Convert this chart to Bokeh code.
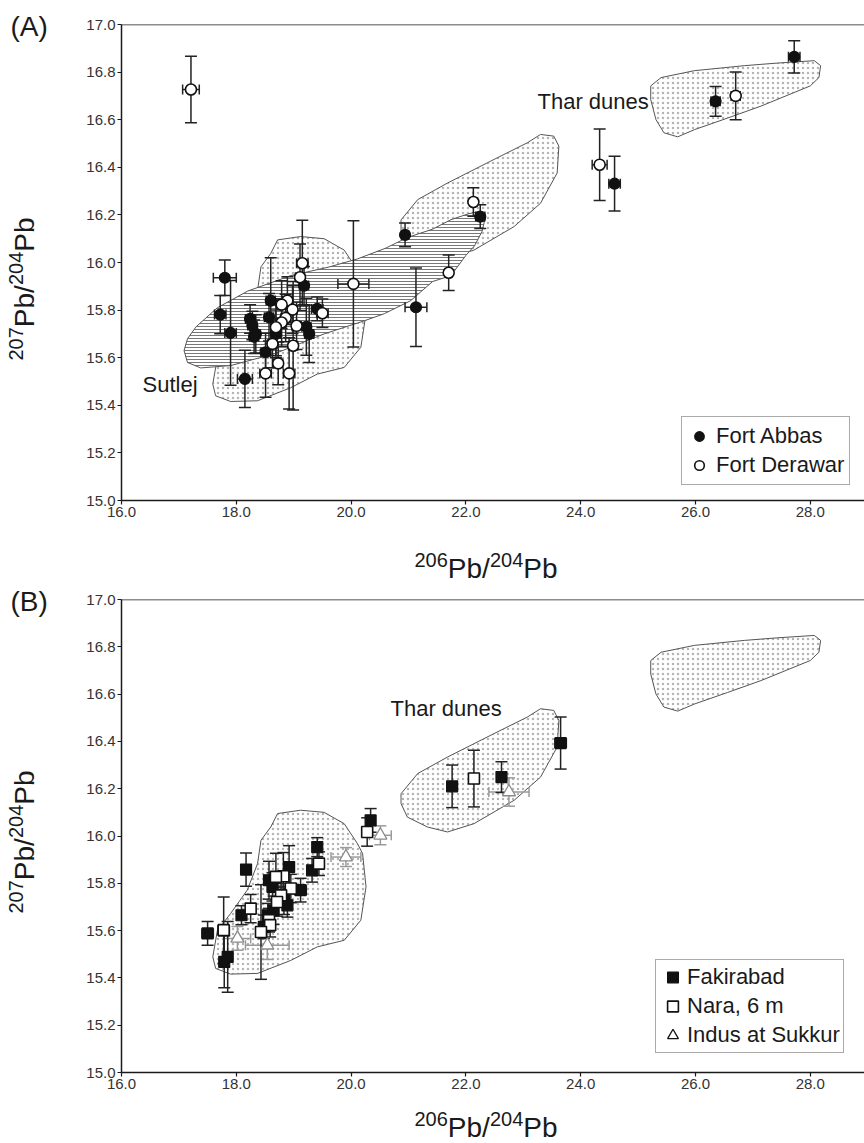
from bokeh.plotting import figure
from bokeh.layouts import column, row
from bokeh.models import (Range1d, FixedTicker, PrintfTickFormatter, Label, Legend,
                          LegendItem, Span)
from bokeh.embed import file_html
from bokeh.resources import INLINE

# ---------------- data ----------------
X_TICKS = [16.0, 18.0, 20.0, 22.0, 24.0, 26.0, 28.0]
Y_TICKS = [15.0, 15.2, 15.4, 15.6, 15.8, 16.0, 16.2, 16.4, 16.6, 16.8, 17.0]

# Panel A: Fort Abbas (filled circles)
FA_X = [27.72, 26.35, 24.59, 22.25, 20.94, 21.13, 19.41, 19.18, 19.27, 19.22, 17.80,
        17.72, 17.90, 18.15, 18.24, 18.28, 18.34, 18.60, 18.57, 18.51, 18.69, 18.31]
FA_Y = [16.864, 16.677, 16.331, 16.193, 16.116, 15.812, 15.805, 15.903, 15.700, 15.730, 15.936,
        15.781, 15.704, 15.511, 15.763, 15.735, 15.700, 15.840, 15.770, 15.623, 15.700, 15.688]
FA_XERR = [0.10, 0.08, 0.10, 0.08, 0.06, 0.19, 0.10, 0.08, 0.08, 0.08, 0.20,
           0.10, 0.10, 0.13, 0.08, 0.08, 0.08, 0.08, 0.08, 0.08, 0.08, 0.08]
FA_YERR = [0.068, 0.062, 0.115, 0.050, 0.050, 0.165, 0.050, 0.080, 0.120, 0.120, 0.075,
           0.080, 0.220, 0.120, 0.060, 0.060, 0.080, 0.180, 0.100, 0.080, 0.100, 0.070]

# Panel A: Fort Derawar (open circles)
FD_X = [17.21, 26.70, 24.33, 22.13, 21.70, 20.04, 19.15, 19.11, 18.89, 18.79, 18.98,
        19.50, 18.86, 18.79, 18.69, 19.05, 18.63, 18.99, 18.73, 18.51, 18.92]
FD_Y = [16.727, 16.700, 16.411, 16.254, 15.957, 15.910, 15.997, 15.938, 15.840, 15.823, 15.802,
        15.787, 15.767, 15.748, 15.728, 15.734, 15.658, 15.650, 15.576, 15.534, 15.534]
FD_XERR = [0.145, 0.08, 0.13, 0.06, 0.06, 0.27, 0.10, 0.08, 0.08, 0.08, 0.08,
           0.10, 0.08, 0.08, 0.08, 0.08, 0.08, 0.08, 0.08, 0.10, 0.10]
FD_YERR = [0.140, 0.100, 0.150, 0.060, 0.075, 0.265, 0.180, 0.140, 0.100, 0.100, 0.100,
           0.060, 0.100, 0.100, 0.120, 0.100, 0.100, 0.270, 0.090, 0.100, 0.150]

# Panel B: Fakirabad (filled squares)
FK_X = [23.65, 21.76, 22.62, 20.34, 19.41, 19.32, 18.17, 18.92, 18.57, 18.63, 19.12,
        18.83, 18.89, 18.65, 18.09, 18.55, 18.48, 17.50, 17.79, 17.85]
FK_Y = [16.393, 16.210, 16.249, 16.066, 15.953, 15.855, 15.858, 15.869, 15.813, 15.785, 15.771,
        15.728, 15.707, 15.686, 15.665, 15.665, 15.616, 15.588, 15.468, 15.489]
FK_XERR = [0.10, 0.06, 0.06, 0.05, 0.05, 0.06, 0.06, 0.08, 0.06, 0.06, 0.10,
           0.06, 0.06, 0.06, 0.06, 0.06, 0.06, 0.10, 0.06, 0.06]
FK_YERR = [0.110, 0.090, 0.065, 0.050, 0.040, 0.050, 0.070, 0.090, 0.080, 0.060, 0.050,
           0.060, 0.050, 0.060, 0.040, 0.050, 0.050, 0.050, 0.110, 0.150]

# Panel B: Nara, 6 m (open squares)
NR_X = [22.14, 20.28, 19.44, 18.82, 18.69, 18.95, 18.78, 18.71, 18.25, 18.57, 18.59, 18.43, 17.78]
NR_Y = [16.243, 16.017, 15.883, 15.830, 15.827, 15.778, 15.749, 15.721, 15.693, 15.644, 15.623,
        15.594, 15.602]
NR_XERR = [0.06, 0.05, 0.06, 0.06, 0.06, 0.06, 0.06, 0.06, 0.06, 0.06, 0.06, 0.08, 0.10]
NR_YERR = [0.120, 0.060, 0.050, 0.100, 0.100, 0.060, 0.050, 0.060, 0.060, 0.050, 0.050, 0.200, 0.140]

# Panel B: Indus at Sukkur (open triangles)
IS_X = [22.75, 20.51, 19.91, 18.02, 18.54]
IS_Y = [16.186, 16.003, 15.911, 15.567, 15.538]
IS_XERR = [0.35, 0.19, 0.26, 0.23, 0.38]
IS_YERR = [0.06, 0.04, 0.04, 0.05, 0.06]

# Outlined fields
SUTLEJ_FIELD_X = [17.59, 17.67, 17.90, 18.19, 18.37, 18.43, 18.60, 18.72, 19.12, 19.53, 19.88,
                  20.11, 20.20, 20.26, 20.17, 19.88, 19.41, 18.95, 18.37, 17.90, 17.64]
SUTLEJ_FIELD_Y = [15.489, 15.600, 15.672, 15.771, 15.883, 15.982, 16.038, 16.095, 16.109, 16.100,
                  16.052, 15.968, 15.926, 15.785, 15.644, 15.559, 15.531, 15.474, 15.419, 15.416,
                  15.440]
SUTLEJ_BAND_X = [17.09, 17.15, 17.30, 17.67, 18.20, 18.95, 19.60, 20.11, 20.60, 20.98, 21.42,
                 21.74, 22.05, 22.25, 22.34, 22.28, 22.15, 22.00, 21.74, 21.42, 21.04, 20.58,
                 20.23, 19.53, 18.66, 17.90, 17.38, 17.15]
SUTLEJ_BAND_Y = [15.630, 15.680, 15.730, 15.810, 15.880, 15.945, 15.980, 16.015, 16.060, 16.105,
                 16.140, 16.180, 16.205, 16.215, 16.190, 16.130, 16.070, 16.030, 15.945, 15.920,
                 15.840, 15.785, 15.755, 15.700, 15.616, 15.567, 15.557, 15.580]
THAR_LOW_X = [20.87, 21.16, 21.68, 22.49, 23.07, 23.30, 23.53, 23.62, 23.59, 23.30, 22.84,
              22.14, 21.68, 21.33, 20.98, 20.87]
THAR_LOW_Y = [16.179, 16.264, 16.334, 16.433, 16.503, 16.538, 16.531, 16.489, 16.376, 16.249,
              16.151, 16.052, 16.017, 16.038, 16.080, 16.137]
THAR_HIGH_X = [25.22, 25.40, 25.98, 26.85, 27.43, 28.07, 28.18, 28.15, 28.00, 27.14, 26.56,
               25.98, 25.69, 25.45, 25.31, 25.22]
THAR_HIGH_Y = [16.742, 16.777, 16.806, 16.827, 16.838, 16.848, 16.827, 16.777, 16.742, 16.657,
               16.607, 16.558, 16.528, 16.545, 16.601, 16.685]

# ---------------- style / layout ----------------
FONT = "Liberation Sans"
INK = "#1a1a1a"
TOTAL_W, TOTAL_H = 864, 1143
GUT = 80                  # left gutter (panel letters + y titles)
BL = 41                   # main figure left border (tick labels)
FRAME_L = GUT + BL        # page x of the frames' left edge
W = TOTAL_W - GUT
FW = W - BL
PX_X = 57.4
X0 = 16.0
X1 = X0 + FW / PX_X
Y0, Y1 = 15.0, 17.0
MID = 0.40                # text middle sits this many em above the baseline
DOTS = dict(pattern="dot", scale=5, weight=0.5, hcolor="#b4b4b4")

ADV = {"0": .556, "1": .556, "2": .556, "4": .556, "6": .556, "7": .556,
       "P": .667, "b": .556, "/": .278}


def text_w(t, size):
    return sum(ADV[c] for c in t) * size


def make_panel(height, btop, bbot):
    p = figure(width=W, height=height, x_range=Range1d(X0, X1), y_range=Range1d(Y0, Y1),
               output_backend="svg", toolbar_location=None, title=None,
               min_border_left=BL, min_border_right=0,
               min_border_top=btop, min_border_bottom=bbot)
    p.grid.visible = False
    p.outline_line_color = None
    for ax in (p.xaxis[0], p.yaxis[0]):
        ax.axis_line_color = INK
        ax.axis_line_width = 1.5
        ax.major_tick_line_color = INK
        ax.major_tick_line_width = 1.2
        ax.major_tick_in = 0
        ax.major_tick_out = 4
        ax.minor_tick_line_color = None
        ax.major_label_text_font = FONT
        ax.major_label_text_font_size = "15px"
        ax.major_label_text_color = "#333333"
        ax.major_label_standoff = 2
        ax.formatter = PrintfTickFormatter(format="%.1f")
    p.xaxis.ticker = FixedTicker(ticks=X_TICKS)
    p.yaxis.ticker = FixedTicker(ticks=Y_TICKS)
    p.add_layout(Span(location=Y1, dimension="width", line_color=INK, line_width=1.5))
    fh = height - btop - bbot
    return p, fh / (Y1 - Y0), btop


def strip(height):
    """Text-only figure under a panel; same horizontal frame as the panels."""
    f = figure(width=W, height=height, x_range=Range1d(X0, X1), y_range=Range1d(0, height),
               output_backend="svg", toolbar_location=None, x_axis_type=None, y_axis_type=None,
               title=None, min_border_left=BL, min_border_right=0, min_border_top=0,
               min_border_bottom=0)
    f.grid.visible = False
    f.outline_line_color = None
    return f


def field(p, xs, ys, pattern, scale, weight, hcolor):
    p.patch(xs, ys, fill_color="white", line_color="#555555", line_width=1,
            hatch_pattern=pattern, hatch_scale=scale, hatch_weight=weight, hatch_color=hcolor)


def errorbars(p, xs, ys, xe, ye, color, lw, px_y):
    cw = 6 / PX_X
    ch = 5 / px_y
    lo = [y - e for y, e in zip(ys, ye)]
    hi = [y + e for y, e in zip(ys, ye)]
    le = [x - e for x, e in zip(xs, xe)]
    ri = [x + e for x, e in zip(xs, xe)]
    kw = dict(line_color=color, line_width=lw)
    p.segment(x0=xs, y0=lo, x1=xs, y1=hi, **kw)
    p.segment(x0=[x - cw for x in xs], y0=hi, x1=[x + cw for x in xs], y1=hi, **kw)
    p.segment(x0=[x - cw for x in xs], y0=lo, x1=[x + cw for x in xs], y1=lo, **kw)
    p.segment(x0=le, y0=ys, x1=ri, y1=ys, **kw)
    p.segment(x0=le, y0=[y - ch for y in ys], x1=le, y1=[y + ch for y in ys], **kw)
    p.segment(x0=ri, y0=[y - ch for y in ys], x1=ri, y1=[y + ch for y in ys], **kw)


def put(f, x, y, text, size, angle=0.0):
    f.add_layout(Label(x=x, y=y, text=text, text_font=FONT, text_font_size=f"{size}px",
                       text_color=INK, text_align="left", text_baseline="middle",
                       angle=angle))


def data_x(px):
    return X0 + (px - FRAME_L) / PX_X


def plot_label(p, px_y, btop, page_top, px, base_py, text, size):
    py = base_py - MID * size
    put(p, data_x(px), Y1 - (py - (page_top + btop)) / px_y, text, size)


SUP, MAIN, SHIFT = 20, 28, 12


def x_title(s, top, h, px, base_py):
    cur = px
    for t, sup in [("206", True), ("Pb/", False), ("204", True), ("Pb", False)]:
        sz = SUP if sup else MAIN
        py = base_py - (SHIFT if sup else 0) - MID * sz
        put(s, data_x(cur), h - (py - top), t, sz)
        cur += text_w(t, sz)


def y_title(g, base_px, bottom_py):
    cur = bottom_py
    for t, sup in [("207", True), ("Pb/", False), ("204", True), ("Pb", False)]:
        sz = SUP if sup else MAIN
        px = base_px - (SHIFT if sup else 0) - MID * sz
        put(g, px, TOTAL_H - cur, t, sz, angle=1.5707963)
        cur -= text_w(t, sz)


HA, HSA, HB = 528, 58, 514
HSB = TOTAL_H - HA - HSA - HB
TOP_A, TOP_SA, TOP_B, TOP_SB = 0, HA, HA + HSA, HA + HSA + HB

# ---------------- panel A ----------------
pA, pyA, btA = make_panel(HA, 24, 28)
field(pA, SUTLEJ_FIELD_X, SUTLEJ_FIELD_Y, **DOTS)
field(pA, THAR_LOW_X, THAR_LOW_Y, **DOTS)
field(pA, THAR_HIGH_X, THAR_HIGH_Y, **DOTS)
field(pA, SUTLEJ_BAND_X, SUTLEJ_BAND_Y, "horizontal_line", 3, 0.8, "#555555")
errorbars(pA, FA_X, FA_Y, FA_XERR, FA_YERR, "#222222", 1.5, pyA)
errorbars(pA, FD_X, FD_Y, FD_XERR, FD_YERR, "#222222", 1.5, pyA)
rFA = pA.scatter(FA_X, FA_Y, marker="circle", size=11, fill_color="#111111",
                 line_color="#111111", line_width=1.2)
rFD = pA.scatter(FD_X, FD_Y, marker="circle", size=11, fill_color="white",
                 line_color="#111111", line_width=1.6)
legA = Legend(items=[LegendItem(label="Fort Abbas", renderers=[rFA]),
                     LegendItem(label="Fort Derawar", renderers=[rFD])],
              location=(560, 15), orientation="vertical", margin=0, padding=5, spacing=1,
              glyph_width=24, glyph_height=28, label_height=28, label_standoff=5,
              label_text_font=FONT, label_text_font_size="22px", label_text_color=INK,
              border_line_color="#555555", border_line_width=1,
              background_fill_color="white", background_fill_alpha=1)
pA.add_layout(legA)
plot_label(pA, pyA, btA, TOP_A, 537, 110, "Thar dunes", 22)
plot_label(pA, pyA, btA, TOP_A, 142, 393, "Sutlej", 22)

sA = strip(HSA)
x_title(sA, TOP_SA, HSA, 414, 579)

# ---------------- panel B ----------------
pB, pyB, btB = make_panel(HB, 13, 28)
field(pB, SUTLEJ_FIELD_X, SUTLEJ_FIELD_Y, **DOTS)
field(pB, THAR_LOW_X, THAR_LOW_Y, **DOTS)
field(pB, THAR_HIGH_X, THAR_HIGH_Y, **DOTS)
errorbars(pB, IS_X, IS_Y, IS_XERR, IS_YERR, "#9a9a9a", 1.5, pyB)
errorbars(pB, FK_X, FK_Y, FK_XERR, FK_YERR, "#222222", 1.5, pyB)
errorbars(pB, NR_X, NR_Y, NR_XERR, NR_YERR, "#222222", 1.5, pyB)
rIS = pB.scatter(IS_X, IS_Y, marker="triangle", size=13, fill_color="white",
                 line_color="#8a8a8a", line_width=1.3)
rFK = pB.scatter(FK_X, FK_Y, marker="square", size=11, fill_color="#111111",
                 line_color="#111111", line_width=1.2)
rNR = pB.scatter(NR_X, NR_Y, marker="square", size=11, fill_color="white",
                 line_color="#111111", line_width=1.6)
# legend-only twin of the triangles (size 0 in the plot, black in the legend)
rISleg = pB.scatter(IS_X, IS_Y, marker="triangle", size=0, fill_color="white",
                    line_color="#111111", line_width=1.3)
legB = Legend(items=[LegendItem(label="Fakirabad", renderers=[rFK]),
                     LegendItem(label="Nara, 6 m", renderers=[rNR]),
                     LegendItem(label="Indus at Sukkur", renderers=[rISleg])],
              location=(534, 19), orientation="vertical", margin=0, padding=3, spacing=1,
              glyph_width=27, glyph_height=28, label_height=28, label_standoff=1,
              label_text_font=FONT, label_text_font_size="22px", label_text_color=INK,
              border_line_color="#555555", border_line_width=1,
              background_fill_color="white", background_fill_alpha=1)
pB.add_layout(legB)
plot_label(pB, pyB, btB, TOP_B, 390, 717, "Thar dunes", 22)

sB = strip(HSB)
x_title(sB, TOP_SB, HSB, 414, 1138)

# ---------------- left gutter: panel letters and y titles ----------------
g = figure(width=GUT, height=TOTAL_H, x_range=Range1d(0, GUT), y_range=Range1d(0, TOTAL_H),
           output_backend="svg", toolbar_location=None, x_axis_type=None, y_axis_type=None,
           title=None, min_border=0)
g.grid.visible = False
g.outline_line_color = None
put(g, 10, TOTAL_H - (37 - MID * 28), "(A)", 28)
put(g, 10, TOTAL_H - (612 - MID * 28), "(B)", 28)
y_title(g, 35, 360)
y_title(g, 35, 913)

layout = row(g, column(pA, sA, pB, sB))
open("out.html", "w").write(file_html(layout, INLINE))
